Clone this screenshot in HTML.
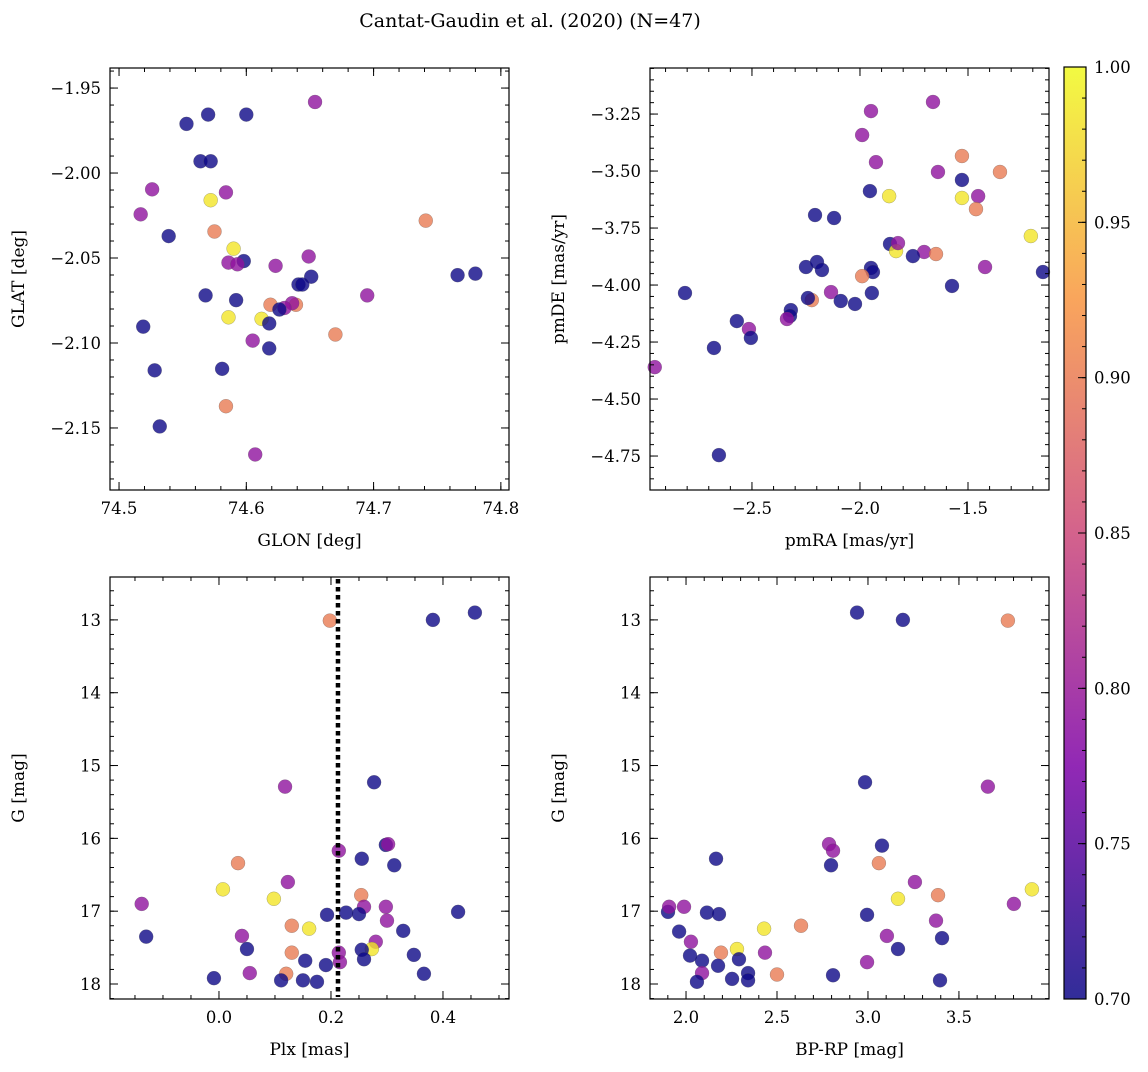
<!DOCTYPE html>
<html><head><meta charset="utf-8"><style>
body{margin:0;background:#fff;}
svg text{font-family:"DejaVu Serif","Liberation Serif",serif;fill:#000;}
</style></head><body>
<svg id="fig" width="1148" height="1067" viewBox="0 0 1148 1067" xmlns="http://www.w3.org/2000/svg">
<rect width="1148" height="1067" fill="#fff"/>
<text x="530" y="27" font-size="19" text-anchor="middle">Cantat-Gaudin et al. (2020) (N=47)</text>
<defs><linearGradient id="plasma" x1="0" y1="1" x2="0" y2="0">
<stop offset="0" stop-color="#0d0887"/><stop offset="0.25" stop-color="#7e03a8"/><stop offset="0.5" stop-color="#cc4778"/><stop offset="0.75" stop-color="#f89540"/><stop offset="1" stop-color="#f0f921"/></linearGradient></defs>
</svg>
<script>
// probability codes: N=navy(0.70), P=purple(0.79), S=salmon(0.90), Y=yellow(0.985)
const probCodes={N:0.70,P:0.79,S:0.90,Y:0.985};
const glon=[74.553,74.570,74.600,74.654,74.564,74.572,74.526,74.584,74.572,74.517,74.539,74.575,74.741,74.590,74.598,74.586,74.593,74.623,74.649,74.651,74.641,74.644,74.766,74.780,74.568,74.592,74.695,74.619,74.639,74.636,74.630,74.626,74.612,74.586,74.618,74.519,74.670,74.605,74.618,74.528,74.581,74.584,74.532,74.607];
const glat=[-1.9711,-1.9656,-1.9656,-1.9582,-1.9931,-1.9931,-2.0096,-2.0114,-2.0160,-2.0243,-2.0371,-2.0344,-2.0280,-2.0445,-2.0518,-2.0527,-2.0537,-2.0546,-2.0491,-2.0610,-2.0656,-2.0656,-2.0601,-2.0592,-2.0720,-2.0748,-2.0720,-2.0775,-2.0775,-2.0766,-2.0794,-2.0803,-2.0858,-2.0849,-2.0885,-2.0904,-2.0950,-2.0986,-2.1032,-2.1161,-2.1152,-2.1372,-2.1491,-2.1656];
const prob1="NNNPNNPPYPNSSYNPPPPNNNNNNNPSSPPNYYNNSPNNNSNP";
const pmra=[-1.949,-1.662,-1.990,-1.528,-1.926,-1.639,-1.352,-1.528,-1.453,-1.954,-1.865,-1.528,-1.463,-1.209,-2.208,-2.120,-1.861,-1.833,-1.824,-1.703,-1.755,-1.648,-2.250,-2.199,-2.176,-1.949,-1.940,-1.153,-1.421,-2.810,-1.945,-1.574,-2.134,-2.223,-2.241,-2.089,-2.023,-1.990,-2.570,-2.514,-2.320,-2.324,-2.338,-2.505,-2.676,-2.950,-2.653];
const pmde=[-3.237,-3.197,-3.342,-3.434,-3.461,-3.504,-3.504,-3.539,-3.610,-3.588,-3.610,-3.618,-3.667,-3.785,-3.693,-3.706,-3.820,-3.851,-3.816,-3.855,-3.873,-3.864,-3.921,-3.899,-3.934,-3.925,-3.943,-3.943,-3.921,-4.035,-4.035,-4.004,-4.031,-4.066,-4.057,-4.070,-4.083,-3.961,-4.158,-4.193,-4.110,-4.136,-4.149,-4.232,-4.276,-4.360,-4.746];
const prob2="PPPSPPSNPNYYSYNNNYPPNSNNNNNNPNNNPSNNNSNPNNPNNPN";
const plx=[0.457,0.382,0.198,0.277,0.118,0.214,0.298,0.302,0.255,0.313,0.034,0.123,0.007,0.098,-0.138,0.254,0.259,0.298,0.300,0.193,0.227,0.250,0.427,0.130,0.161,0.329,-0.130,0.041,0.050,0.130,0.154,0.191,0.214,0.216,0.280,0.273,0.255,0.259,0.348,0.055,-0.009,0.120,0.111,0.150,0.175,0.366];
const gmag3=[12.90,13.00,13.01,15.23,15.29,16.17,16.09,16.08,16.28,16.37,16.34,16.60,16.70,16.83,16.90,16.78,16.94,16.94,17.13,17.05,17.02,17.04,17.01,17.20,17.24,17.27,17.35,17.34,17.52,17.57,17.68,17.74,17.57,17.70,17.42,17.52,17.53,17.66,17.60,17.85,17.92,17.86,17.95,17.95,17.97,17.86];
const prob3="NNSNPPNPNNSPYYPSPPPNNNNSYNNPNSNNPPPYNNNPNSNNNN";
const bprp=[2.940,3.192,3.769,2.984,3.659,2.786,2.808,3.077,2.165,2.797,3.060,3.258,3.165,3.385,3.901,3.802,1.901,1.907,1.989,2.115,2.181,2.995,2.429,2.632,3.374,1.962,3.104,3.407,2.027,3.165,2.022,2.192,2.280,2.291,2.434,2.088,2.176,2.995,2.088,2.060,2.253,2.341,2.341,2.500,2.808,3.396];
const gmag4=[12.90,13.00,13.01,15.23,15.29,16.08,16.17,16.10,16.28,16.37,16.34,16.60,16.83,16.78,16.70,16.90,17.01,16.94,16.94,17.02,17.04,17.05,17.24,17.20,17.13,17.28,17.34,17.37,17.42,17.52,17.61,17.57,17.52,17.66,17.57,17.68,17.75,17.70,17.85,17.97,17.93,17.85,17.95,17.87,17.88,17.95];
const prob4="NNSNPPPNNNSPYSYPNPPNNNYSPNPNPNNSYNPNNPPNNNNSNN";
const plxCut=0.2125;
const cbTicks=[0.70,0.75,0.80,0.85,0.90,0.95,1.00];

const svg=document.getElementById('fig');
const NS='http://www.w3.org/2000/svg';
function mk(tag,attrs,parent){const e=document.createElementNS(NS,tag);for(const k in attrs)e.setAttribute(k,attrs[k]);(parent||svg).appendChild(e);return e;}
const stops=[[13,8,135],[126,3,168],[204,71,120],[248,149,64],[240,249,33]];
function plasma(v){let t=Math.max(0,Math.min(1,(v-0.7)/0.3))*4;let i=Math.min(3,Math.floor(t));let f=t-i;const a=stops[i],b=stops[i+1];return 'rgb('+a.map((c,j)=>Math.round(c+(b[j]-c)*f)).join(',')+')';}

function panel(name,L,T,W,H,xd,yd,xMaj,xMin,yMaj,yMin,xfmt,yfmt,xlab,ylab,xs,ys,pc){
  const g=mk('g',{});
  
  
  const sx=v=>L+(v-xd[0])/(xd[1]-xd[0])*W;
  const sy=v=>T+(v-yd[0])/(yd[1]-yd[0])*H;
  for(let i=0;i<xs.length;i++){
    const c=mk('circle',{cx:sx(xs[i]),cy:sy(ys[i]),r:7,fill:plasma(probCodes[pc[i]]),'fill-opacity':0.8,stroke:'#555','stroke-width':0.4,'stroke-opacity':0.6},g);
    
    
  }
  const inR=(v,d)=>v>=Math.min(d[0],d[1])-1e-9&&v<=Math.max(d[0],d[1])+1e-9;
  const tick=(v,len,isX,lab)=>{
    if(!inR(v,isX?xd:yd))return;
    if(isX){const x=sx(v);mk('line',{x1:x,y1:T+H,x2:x,y2:T+H-len,stroke:'#000','stroke-width':1},g);mk('line',{x1:x,y1:T,x2:x,y2:T+len,stroke:'#000','stroke-width':1},g);
      if(lab!=null){const t=mk('text',{x:x,y:T+H+24,'font-size':16.5,'text-anchor':'middle'},g);t.textContent=lab;}}
    else{const y=sy(v);mk('line',{x1:L,y1:y,x2:L+len,y2:y,stroke:'#000','stroke-width':1},g);mk('line',{x1:L+W,y1:y,x2:L+W-len,y2:y,stroke:'#000','stroke-width':1},g);
      if(lab!=null){const t=mk('text',{x:L-9,y:y+6,'font-size':16.5,'text-anchor':'end'},g);t.textContent=lab;}}
  };
  xMin.forEach(v=>tick(v,4,true,null));xMaj.forEach(v=>tick(v,8,true,xfmt(v)));
  yMin.forEach(v=>tick(v,4,false,null));yMaj.forEach(v=>tick(v,8,false,yfmt(v)));
  mk('rect',{x:L,y:T,width:W,height:H,fill:'none',stroke:'#000','stroke-width':1.2},g);
  const xl=mk('text',{x:L+W/2,y:T+H+56,'font-size':17,'text-anchor':'middle'},g);xl.textContent=xlab;
  
  const yl=mk('text',{x:0,y:0,'font-size':17,'text-anchor':'middle',transform:`translate(${L-86},${T+H/2}) rotate(-90)`},g);yl.textContent=ylab;
  
  return {sx,sy,g};
}
const range=(a,b,s)=>{const r=[];for(let v=a;v<=b+s/1000;v+=s)r.push(+v.toFixed(6));return r;};
const minus=s=>s.replace('-','\u2212');

panel('glon-glat-panel',110,68,399,422,[74.4929,74.8064],[-1.9382,-2.1865],range(74.5,74.8,0.1),range(74.48,74.82,0.02),range(-2.15,-1.95,0.05),range(-2.18,-1.94,0.01),v=>v.toFixed(1),v=>minus(v.toFixed(2)),'GLON [deg]','GLAT [deg]',glon,glat,prob1);
panel('pm-panel',650,68,399,422,[-2.972,-1.125],[-3.048,-4.899],range(-2.5,-1.5,0.5),range(-2.9,-1.1,0.1),range(-4.75,-3.25,0.25),range(-4.9,-3.05,0.05),v=>minus(v.toFixed(1)),v=>minus(v.toFixed(2)),'pmRA [mas/yr]','pmDE [mas/yr]',pmra,pmde,prob2);
const p3=panel('plx-g-panel',110,577,399,422,[-0.1946,0.5179],[12.411,18.206],range(0,0.4,0.2),range(-0.15,0.5,0.05),range(13,18,1),range(12.4,18.2,0.2),v=>v.toFixed(1),v=>v.toFixed(0),'Plx [mas]','G [mag]',plx,gmag3,prob3);
const cut=mk('line',{x1:p3.sx(plxCut),y1:579,x2:p3.sx(plxCut),y2:997,stroke:'#000','stroke-width':4.5,'stroke-dasharray':'4.5 3.5'},p3.g);


panel('color-g-panel',650,577,399,422,[1.802,3.995],[12.411,18.206],range(2,3.5,0.5),range(1.9,3.9,0.1),range(13,18,1),range(12.4,18.2,0.2),v=>v.toFixed(1),v=>v.toFixed(0),'BP-RP [mag]','G [mag]',bprp,gmag4,prob4);

// colorbar
const cb=mk('g',{});


const cL=1064,cT=67,cW=22,cH=932;
mk('rect',{x:cL,y:cT,width:cW,height:cH,fill:'url(#plasma)','fill-opacity':0.85},cb);
mk('rect',{x:cL,y:cT,width:cW,height:cH,fill:'none',stroke:'#000','stroke-width':1.2},cb);
const cy=v=>cT+cH-(v-0.7)/0.3*cH;
range(0.70,1.0,0.01).forEach(v=>mk('line',{x1:cL+cW,y1:cy(v),x2:cL+cW-4,y2:cy(v),stroke:'#000'},cb));
cbTicks.forEach(v=>{mk('line',{x1:cL+cW,y1:cy(v),x2:cL+cW-8,y2:cy(v),stroke:'#000'},cb);
  const t=mk('text',{x:cL+cW+8,y:cy(v)+6,'font-size':16.5},cb);t.textContent=v.toFixed(2);
  
  });
</script>
</body></html>
